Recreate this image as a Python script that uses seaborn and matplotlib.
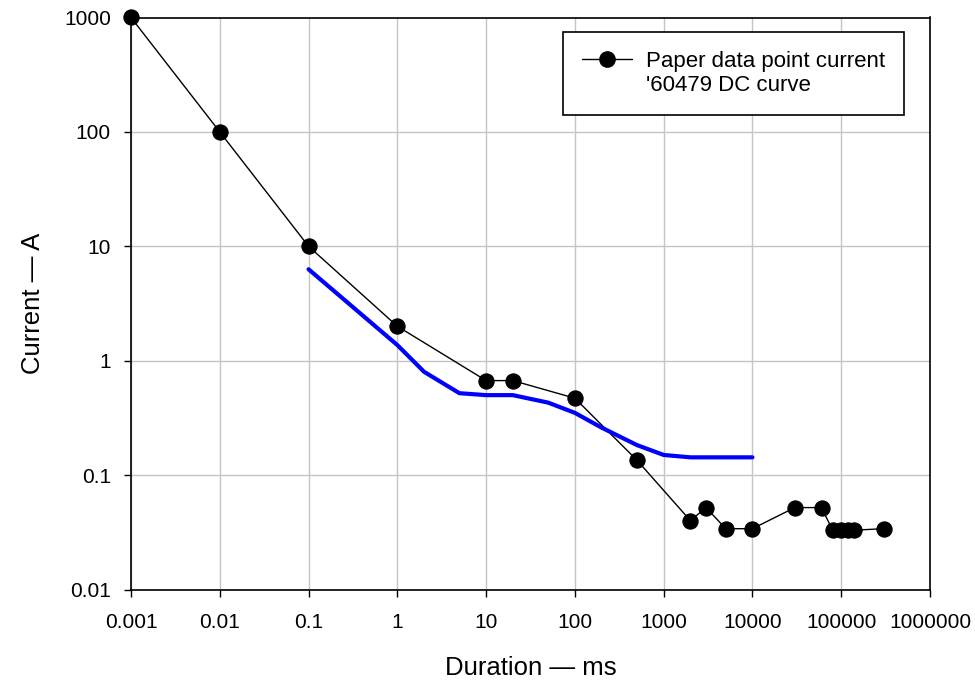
import matplotlib
matplotlib.use("Agg")
import matplotlib.pyplot as plt
from matplotlib.lines import Line2D
from matplotlib.ticker import FixedLocator, FixedFormatter, NullLocator
import pandas as pd
import seaborn as sns

# Measured paper data points: pulse duration (ms) vs. current (A)
paper_ms = [0.001, 0.01, 0.1, 1, 10, 20, 100, 500, 2000, 3000, 5000, 10000,
            30000, 60000, 80000, 100000, 120000, 140000, 300000]
paper_a = [1000, 100, 10, 2.0, 0.67, 0.67, 0.47, 0.135, 0.040, 0.052, 0.034, 0.034,
           0.052, 0.052, 0.033, 0.033, 0.033, 0.033, 0.034]

# '60479 DC curve
dc_ms = [0.1, 1, 2, 5, 10, 20, 50, 100, 200, 500, 1000, 2000, 10000]
dc_a = [6.3, 1.37, 0.80, 0.52, 0.50, 0.50, 0.43, 0.35, 0.26, 0.183, 0.150, 0.143, 0.143]

x_ticks = [0.001, 0.01, 0.1, 1, 10, 100, 1000, 10000, 100000, 1000000]
x_tick_labels = ["0.001", "0.01", "0.1", "1", "10", "100", "1000", "10000",
                 "100000", "1000000"]
y_ticks = [0.01, 0.1, 1, 10, 100, 1000]
y_tick_labels = ["0.01", "0.1", "1", "10", "100", "1000"]

paper_df = pd.DataFrame({"Duration": paper_ms, "Current": paper_a})
dc_df = pd.DataFrame({"Duration": dc_ms, "Current": dc_a})

sns.set_style("white")
plt.rcParams["font.family"] = ["Liberation Sans", "DejaVu Sans"]
plt.rcParams.update({
    "text.color": "black",
    "axes.labelcolor": "black",
    "xtick.color": "black",
    "ytick.color": "black",
})

fig = plt.figure(figsize=(9.75, 6.82), dpi=100)
ax = fig.add_axes([131 / 975, 1 - 589.5 / 682, 799 / 975, 572 / 682])

ax.set_xscale("log")
ax.set_yscale("log")

sns.lineplot(data=paper_df, x="Duration", y="Current", ax=ax, sort=False,
             estimator=None, color="black", linewidth=1.0, marker="o",
             markersize=11, markeredgecolor="black", markerfacecolor="black",
             zorder=3, clip_on=False)
sns.lineplot(data=dc_df, x="Duration", y="Current", ax=ax, sort=False,
             estimator=None, color="#0000ff", linewidth=3.0, zorder=4)

ax.set_xlim(0.001, 1000000)
ax.set_ylim(0.01, 1000)

ax.xaxis.set_major_locator(FixedLocator(x_ticks))
ax.xaxis.set_major_formatter(FixedFormatter(x_tick_labels))
ax.xaxis.set_minor_locator(NullLocator())
ax.yaxis.set_major_locator(FixedLocator(y_ticks))
ax.yaxis.set_major_formatter(FixedFormatter(y_tick_labels))
ax.yaxis.set_minor_locator(NullLocator())

ax.grid(True, which="major", color="#c4c4c4", linewidth=1.0)
ax.set_axisbelow(True)
for side in ["left", "right", "top", "bottom"]:
    ax.spines[side].set_visible(True)
    ax.spines[side].set_color("black")
    ax.spines[side].set_linewidth(1.2)

ax.tick_params(axis="both", which="major", direction="out", length=5,
               width=1.0, color="black", labelcolor="black", labelsize=15,
               bottom=True, left=True, top=False, right=False)
ax.tick_params(axis="x", pad=12)
ax.tick_params(axis="y", pad=9.5)

ax.set_xlabel("Duration — ms", fontsize=18.5, labelpad=17, color="black")
ax.set_ylabel("Current — A", fontsize=18.5, labelpad=14, color="black")

handles = [
    Line2D([], [], color="black", linewidth=1.0, marker="o", markersize=11),
    Line2D([], [], linestyle="none", marker="none"),
]
labels = ["Paper data point current", "'60479 DC curve"]
leg = ax.legend(handles, labels, loc="upper right",
                bbox_to_anchor=((904 - 131) / 799, 1 - (32 - 17.5) / 572),
                borderaxespad=0, fontsize=16, frameon=True, fancybox=False,
                edgecolor="black", framealpha=1, handlelength=2.25,
                handletextpad=0.63, borderpad=0.85, labelspacing=0.15)
leg.get_frame().set_linewidth(1.2)
for txt in leg.get_texts():
    txt.set_color("black")

fig.savefig("out.png", dpi=100)
